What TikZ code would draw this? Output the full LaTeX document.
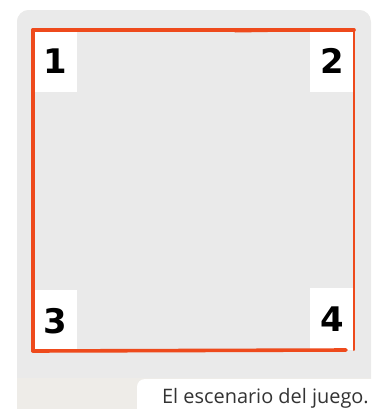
\documentclass[tikz,border=0pt]{standalone}
\usepackage{fontspec}
\setmainfont{Open Sans}
\newfontfamily\digitfont{DejaVu Sans}
\usepackage{tikz}
\usetikzlibrary{positioning}
\definecolor{framegray}{HTML}{EEECE8}
\definecolor{photogray}{HTML}{EAEAEA}
\definecolor{chalkred}{HTML}{EE4A1C}
\definecolor{captiontext}{HTML}{333333}
\tikzset{
	cornerbox/.style={fill=white,inner sep=0pt,minimum width=44,minimum height=62,
		font=\digitfont\bfseries\fontsize{34}{34}\selectfont},
	chalk/.style={chalkred,line width=3.6pt,line cap=round,line join=round},
}

\begin{document}
\begin{tikzpicture}[x=1bp,y=-1bp]
		\useasboundingbox (0,0) rectangle (374,409);
		% marco y foto
		\fill[framegray,rounded corners=12] (17,10) rectangle (371,425);
		\begin{scope}
			\clip[rounded corners=12] (17,10) rectangle (371,425);
			\fill[photogray] (17,10) rectangle (371,378);
		\end{scope}
		% casillas de las esquinas
		\node[cornerbox,anchor=north west] (c1) at (33,30) {1};
		\node[cornerbox,anchor=north east] (c2) at (354,30) {2};
		\node[cornerbox,anchor=south west] (c3) at (33,352) {3};
		\node[cornerbox,anchor=south east] (c4) at (354,350) {4};
		% contorno rojo
		\draw[chalk] (c1.north west) -- (c2.north east);
		\draw[chalk,line width=2pt] (235,31.5) -- (300,30.5);
		\draw[chalk] (c1.north west) -- ([yshift=1]c3.south west);
		\draw[chalk] ([yshift=1]c3.south west) -- ([xshift=-8]c4.south east);
		\draw[chalk,line width=2pt] (c2.north east) -- (c4.south east);
		% pie de foto
		\fill[white,rounded corners=8] (137,379) rectangle (380,420);
		\node[anchor=base east,text=captiontext,font=\fontsize{20}{22}\selectfont,inner sep=0pt]
			(caption) at (369,403) {El escenario del juego.};
	\end{tikzpicture}
\end{document}
